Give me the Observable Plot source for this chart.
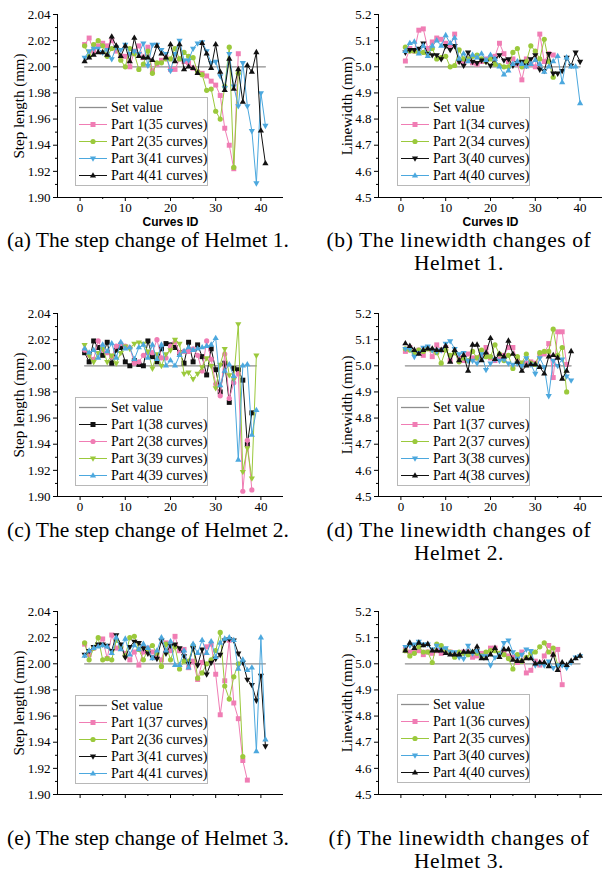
<!DOCTYPE html>
<html><head><meta charset="utf-8">
<script src="https://cdn.jsdelivr.net/npm/d3@7"></script>
<script src="https://cdn.jsdelivr.net/npm/@observablehq/plot@0.6"></script>
<style>
body{margin:0;background:#fff;}
#root{position:relative;width:613px;height:888px;background:#fff;overflow:hidden;}
.panel{position:absolute;}
.panel svg{overflow:visible;}
.panel g[aria-label="y-axis label"] text{font-size:15px;}
.panel g[aria-label="x-axis label"] text{font-family:"Liberation Sans",Arial,sans-serif;font-weight:bold;font-size:12px;}
.cap{position:absolute;width:300px;font-family:"Liberation Serif","Times New Roman",serif;font-size:21.5px;line-height:23px;text-align:center;color:#000;white-space:nowrap;}
.cap.right{letter-spacing:0.6px;}
.legend{position:absolute;width:131px;height:86px;border:1px solid #b8b8b8;background:#fff;font-family:"Liberation Serif","Times New Roman",serif;font-size:14px;color:#000;padding-top:1px;}
.legend .row{height:17px;line-height:17px;position:relative;white-space:nowrap;}
.legend .row svg{position:absolute;left:2px;top:0;}
.legend .row span{position:absolute;left:35px;top:0;}
</style>
</head><body><div id="root"></div>
<script>
// ---------- data ----------
const curveIdTicks = [0, 10, 20, 30, 40];
const curveIdMinor = [5, 15, 25, 35];
const stepTicks = [1.90, 1.92, 1.94, 1.96, 1.98, 2.00, 2.02, 2.04];
const stepMinor = [1.91, 1.93, 1.95, 1.97, 1.99, 2.01, 2.03];
const widthTicks = [4.5, 4.6, 4.7, 4.8, 4.9, 5.0, 5.1, 5.2];
const widthMinor = [4.55, 4.65, 4.75, 4.85, 4.95, 5.05, 5.15];
const stepSetValue = 2.00;
const widthSetValue = 5.0;
const captions = [
  ["(a) The step change of Helmet 1."],
  ["(b) The linewidth changes of", "Helmet 1."],
  ["(c) The step change of Helmet 2."],
  ["(d) The linewidth changes of", "Helmet 2."],
  ["(e) The step change of Helmet 3."],
  ["(f) The linewidth changes of", "Helmet 3."]
];

// Helmet 1 step length
const a_part1 = [2.017,2.022,2.012,2.016,2.018,2.016,2.020,2.012,2.008,2.008, 2.000,2.012,2.016,2.007,2.015,1.997,2.002,2.005,2.007,1.998, 1.998,2.006,2.004,2.003,1.999,1.996,1.995,1.993,1.989,1.986, 1.978,1.953,1.940,1.922,2.010];
const a_part2 = [2.016,2.008,2.017,2.020,2.016,2.008,2.014,2.015,2.005,2.000, 2.014,2.010,1.998,2.002,2.012,1.995,2.003,2.003,2.006,2.006, 2.014,2.006,2.011,2.008,2.007,1.996,1.994,1.982,1.983,1.966, 1.960,1.985,2.015,1.923,1.995];
const a_part3 = [2.007,2.012,2.014,2.014,2.011,2.013,2.006,2.015,2.013,2.017, 2.010,2.012,2.010,2.018,2.001,2.017,2.017,2.013,2.010,1.997, 2.010,2.020,2.005,2.005,2.014,2.018,2.019,2.012,2.003,2.004, 1.993,1.984,2.010,1.985,1.970,2.003,1.970,1.951,1.911,1.980,1.955];
const a_part4 = [2.004,2.007,2.009,2.011,2.011,2.009,2.023,2.016,2.008,2.016, 2.004,2.022,2.008,2.007,2.007,2.005,2.016,2.010,2.007,2.017, 2.004,2.017,1.998,2.000,1.999,1.995,2.018,2.010,1.999,2.017, 1.996,1.982,2.006,1.983,1.998,1.973,2.001,1.996,2.011,1.951,1.926];
// Helmet 1 linewidth
const b_part1 = [5.022,5.070,5.060,5.140,5.145,5.070,5.095,5.110,5.105,5.090, 5.080,5.125,5.020,5.015,5.030,5.015,5.010,5.020,5.030,5.035, 5.040,5.090,5.050,5.020,5.030,5.010,4.950,5.030,5.010,5.000, 5.125,5.020,5.050,5.045];
const b_part2 = [5.075,5.060,5.060,5.055,5.055,5.050,5.070,5.030,5.035,5.040, 5.000,5.005,5.065,5.030,5.030,5.040,5.045,5.030,5.020,5.030, 5.010,5.005,5.000,5.000,5.055,5.070,5.000,5.020,5.080,5.060, 5.030,5.105,5.020,4.960];
const b_part3 = [5.055,5.065,5.065,5.070,5.090,5.050,5.045,5.045,5.030,5.080, 5.065,5.080,5.020,5.005,5.055,5.020,5.015,5.025,5.020,5.005, 5.030,5.045,5.025,5.030,5.005,5.015,5.020,5.005,5.030,5.045, 4.990,4.985,5.050,4.975,4.975,4.985,5.035,5.005,5.055,5.020];
const b_part4 = [5.060,5.090,5.095,5.050,5.080,5.040,5.080,5.100,5.080,5.120, 5.090,5.110,5.030,5.050,5.020,5.045,5.035,5.050,5.025,5.045, 5.030,5.000,4.970,4.985,5.010,5.020,5.010,5.000,5.010,5.025, 5.010,4.980,5.000,5.020,5.040,4.940,5.035,5.000,5.000,4.860];
// Helmet 2 step length
const c_part1 = [2.010,2.003,2.019,2.014,2.008,2.018,2.002,2.012,2.014,2.003, 2.000,2.004,2.001,2.000,2.019,2.007,2.003,2.013,2.017,2.016, 2.014,2.010,2.002,2.018,2.003,2.016,2.007,1.993,2.013,1.997, 1.980,2.002,1.972,1.998,1.997,1.989,1.940,1.964];
const c_part2 = [2.012,2.008,2.005,2.019,2.012,2.010,2.007,2.015,2.017,2.015, 2.014,2.002,2.003,2.008,2.010,2.010,2.020,2.006,2.006,2.015, 2.018,2.010,2.011,2.011,2.013,2.008,1.996,2.019,2.005,1.986, 1.977,2.009,1.975,1.987,1.994,1.904,1.943,1.905];
const c_part3 = [2.016,2.008,2.003,2.010,2.013,2.003,2.008,2.002,2.010,2.015, 2.013,2.017,2.018,2.017,2.011,1.998,2.009,2.000,2.009,2.012, 2.020,2.017,1.994,1.995,1.990,1.994,1.999,2.006,2.000,1.983, 2.001,2.013,1.993,1.990,2.032,1.919,1.937,1.914,2.008];
const c_part4 = [2.013,2.010,2.012,2.006,2.016,2.011,2.017,2.006,2.018,2.013, 2.014,2.005,2.014,2.016,2.006,2.016,2.005,2.016,2.000,2.004, 2.000,2.008,2.011,2.014,2.012,2.013,2.014,2.015,2.016,2.021, 1.985,1.996,2.001,1.992,1.928,2.000,2.001,1.947,1.966];
// Helmet 2 linewidth
const d_part1 = [5.055,5.070,5.050,5.060,5.040,5.070,5.035,5.080,5.060,5.070, 5.020,5.050,5.030,5.020,5.045,5.030,5.030,5.040,5.070,5.030, 5.020,5.030,5.040,5.070,5.070,5.020,5.010,5.010,5.015,5.010, 5.040,5.045,5.085,4.955,5.130,5.130,5.005];
const d_part2 = [5.065,5.060,5.050,5.060,5.055,5.065,5.060,5.050,5.010,5.060, 5.040,5.050,5.015,5.030,5.020,5.055,5.030,5.060,5.035,5.035, 5.080,5.045,5.020,5.040,4.990,5.035,5.010,5.045,5.010,5.005, 5.050,5.055,5.055,5.140,5.040,5.070,4.900];
const d_part3 = [5.065,5.065,5.035,5.050,5.070,5.075,5.060,5.055,5.060,5.085, 5.095,5.065,5.045,5.050,5.020,5.020,5.010,5.045,4.985,5.010, 5.025,5.020,5.025,5.010,5.005,5.010,5.000,5.030,5.005,4.970, 5.030,4.995,4.885,5.020,5.000,5.025,4.960,4.945];
const d_part4 = [5.085,5.075,5.060,5.045,5.060,5.065,5.065,5.060,5.060,5.075, 5.015,5.060,5.020,5.040,4.980,5.080,5.080,5.020,5.050,5.105, 5.025,5.045,5.035,5.095,5.045,5.015,4.980,5.000,5.005,5.005, 4.995,4.970,5.035,5.040,5.030,4.950,4.980,5.055];
// Helmet 3 step length
const e_part1 = [2.015,2.007,2.012,2.014,2.019,2.004,2.022,2.012,2.013,2.008, 2.003,2.009,1.999,2.009,2.012,2.009,2.005,2.003,2.016,2.010, 2.021,2.010,2.011,1.997,2.002,1.988,2.001,2.013,2.015,1.992, 1.961,1.987,2.018,1.970,1.958,1.926,1.911];
const e_part2 = [2.016,2.003,2.012,2.020,2.003,2.004,2.003,2.018,2.013,2.006, 2.020,2.021,2.011,2.003,2.011,2.014,2.008,1.998,2.015,2.003, 2.013,1.996,2.002,2.002,2.014,1.989,1.993,2.000,2.003,2.010, 2.024,1.983,1.973,1.990,2.000,1.929];
const e_part3 = [2.007,2.010,2.013,2.015,2.015,2.014,2.010,2.022,2.015,2.005, 2.013,2.017,2.016,2.012,2.008,2.005,2.004,2.018,2.008,2.014, 2.015,2.012,2.006,2.000,2.012,1.999,2.011,1.992,2.001,2.004, 2.007,2.018,2.019,2.018,2.008,2.001,1.988,1.984,1.972,1.991,1.937];
const e_part4 = [2.006,2.010,2.012,2.013,2.014,2.013,2.008,2.020,2.011,2.019, 2.007,2.014,2.011,2.015,2.012,2.004,2.010,2.020,2.010,2.017, 1.999,1.999,2.010,1.997,2.015,2.008,2.018,2.008,2.017,2.005, 2.016,2.019,2.020,2.018,1.996,2.003,1.995,1.997,1.933,2.020,1.942];
// Helmet 3 linewidth
const f_part1 = [5.055,5.045,5.045,5.050,5.035,5.045,5.040,5.050,5.040,5.045, 5.045,5.040,5.035,5.045,5.045,5.025,5.030,5.040,5.035,5.060, 5.060,5.040,5.040,5.030,5.025,5.005,5.045,4.965,4.975,5.010, 4.995,5.030,5.070,5.035,5.055,4.920];
const f_part2 = [5.050,5.030,5.040,5.065,5.045,5.045,5.005,5.075,5.070,5.055, 5.045,5.025,5.045,5.040,5.035,5.045,5.040,5.030,5.045,5.050, 5.050,5.040,5.035,5.020,4.980,5.035,5.010,5.025,5.040,5.045, 5.065,5.080,5.045,5.060,4.995];
const f_part3 = [5.065,5.070,5.075,5.085,5.075,5.075,5.055,5.070,5.055,5.060, 5.045,5.045,5.025,5.020,5.070,5.040,5.050,5.030,5.030,4.995, 5.025,5.035,5.080,5.090,5.045,5.020,5.035,5.055,5.050,4.995, 5.000,4.995,5.010,4.985,4.995,4.995,4.985,5.005,5.025,5.030];
const f_part4 = [5.050,5.080,5.060,5.080,5.070,5.075,5.050,5.050,5.050,5.040, 5.035,5.035,5.035,5.045,5.045,5.045,5.065,5.020,5.020,5.035, 5.060,5.025,5.055,5.055,5.015,5.010,5.010,5.020,5.020,5.000, 5.005,5.005,4.990,5.035,4.975,5.005,4.995,5.010,5.020,5.030];

// ---------- styles ----------
const PINK = "#F07DB4", GREEN = "#9BC93C", BLUE = "#4CA8DE", BLACK = "#111111", SETC = "#8E8E8E";
const triangleDown = {
  draw(ctx, size) {
    const y = -Math.sqrt(size / (Math.sqrt(3) * 3));
    ctx.moveTo(0, -y * 2);
    ctx.lineTo(-Math.sqrt(3) * y, y);
    ctx.lineTo(Math.sqrt(3) * y, y);
    ctx.closePath();
  }
};
const SYM = {square: "square", circle: "circle", up: "triangle", down: triangleDown};
const RAD = {square: 2.8, circle: 2.6, up: 2.3, down: 2.3};

function S(name, values, color, sym) { return {name, values, color, sym}; }

// xText: which x-axis texts are visible in the reference (row 1 full, row 2 tick labels only, row 3 none)
const panels = [
  {left: 0, top: 0, xText: "full", capTop: 229, kind: "step", legendTop: 97, series: [
    S("Part 1(35 curves)", a_part1, PINK, "square"), S("Part 2(35 curves)", a_part2, GREEN, "circle"),
    S("Part 3(41 curves)", a_part3, BLUE, "down"), S("Part 4(41 curves)", a_part4, BLACK, "up")]},
  {left: 300, top: 0, xText: "full", capTop: 229, kind: "width", legendTop: 97, series: [
    S("Part 1(34 curves)", b_part1, PINK, "square"), S("Part 2(34 curves)", b_part2, GREEN, "circle"),
    S("Part 3(40 curves)", b_part3, BLACK, "down"), S("Part 4(40 curves)", b_part4, BLUE, "up")]},
  {left: 0, top: 299, xText: "ticks", capTop: 519, kind: "step", legendTop: 397, series: [
    S("Part 1(38 curves)", c_part1, BLACK, "square"), S("Part 2(38 curves)", c_part2, PINK, "circle"),
    S("Part 3(39 curves)", c_part3, GREEN, "down"), S("Part 4(39 curves)", c_part4, BLUE, "up")]},
  {left: 300, top: 299, xText: "ticks", capTop: 519, kind: "width", legendTop: 397, series: [
    S("Part 1(37 curves)", d_part1, PINK, "square"), S("Part 2(37 curves)", d_part2, GREEN, "circle"),
    S("Part 3(38 curves)", d_part3, BLUE, "down"), S("Part 4(38 curves)", d_part4, BLACK, "up")]},
  {left: 0, top: 597, xText: "none", capTop: 827, kind: "step", legendTop: 695, series: [
    S("Part 1(37 curves)", e_part1, PINK, "square"), S("Part 2(36 curves)", e_part2, GREEN, "circle"),
    S("Part 3(41 curves)", e_part3, BLACK, "down"), S("Part 4(41 curves)", e_part4, BLUE, "up")]},
  {left: 300, top: 597, xText: "none", capTop: 827, kind: "width", legendTop: 694, series: [
    S("Part 1(36 curves)", f_part1, PINK, "square"), S("Part 2(35 curves)", f_part2, GREEN, "circle"),
    S("Part 3(40 curves)", f_part3, BLUE, "down"), S("Part 4(40 curves)", f_part4, BLACK, "up")]}
];

const root = document.getElementById("root");

function markerSvg(sym, color) {
  const cx = 15, cy = 8.5;
  let m = "";
  if (sym === "square") m = `<rect x="${cx-2.5}" y="${cy-2.5}" width="5" height="5" fill="${color}"/>`;
  else if (sym === "circle") m = `<circle cx="${cx}" cy="${cy}" r="2.6" fill="${color}"/>`;
  else if (sym === "up") m = `<polygon points="${cx},${cy-3.3} ${cx-3.1},${cy+2} ${cx+3.1},${cy+2}" fill="${color}"/>`;
  else if (sym === "down") m = `<polygon points="${cx},${cy+3.3} ${cx-3.1},${cy-2} ${cx+3.1},${cy-2}" fill="${color}"/>`;
  return m;
}

panels.forEach((p, idx) => {
  const isStep = p.kind === "step";
  const yTicks = isStep ? stepTicks : widthTicks;
  const yMinor = isStep ? stepMinor : widthMinor;
  const setV = isStep ? stepSetValue : widthSetValue;
  const yDomain = [yTicks[0], yTicks[yTicks.length - 1]];
  const xDomain = [-5, 45];
  const maxN = d3.max(p.series, s => s.values.length);
  const setLine = [{x: 1, y: setV}, {x: maxN, y: setV}];
  const isLeft = p.left === 0;
  const width = isLeft ? 300 : 313;
  const marks = [
    Plot.line(setLine, {x: "x", y: "y", stroke: SETC, strokeWidth: 1.3})
  ];
  p.series.forEach(s => {
    const d = s.values.map((v, i) => ({x: i + 1, y: v}));
    marks.push(Plot.line(d, {x: "x", y: "y", stroke: s.color, strokeWidth: 1}));
    marks.push(Plot.dot(d, {x: "x", y: "y", symbol: SYM[s.sym], fill: s.color, stroke: "none", r: RAD[s.sym]}));
  });
  const xAxisOpts = {ticks: curveIdTicks, tickSize: 4, tickPadding: 1, labelAnchor: "center", labelArrow: "none", labelOffset: 28};
  if (p.xText === "full") { xAxisOpts.label = "Curves ID"; }
  else { xAxisOpts.label = null; }
  if (p.xText === "none") { xAxisOpts.tickFormat = () => ""; }
  marks.push(
    Plot.axisY({ticks: yTicks, tickFormat: d3.format(isStep ? ".2f" : ".1f"), tickSize: 4, tickPadding: 3,
      label: isStep ? "Step length (mm)" : "Linewidth (mm)", labelAnchor: "center", labelArrow: "none",
      labelOffset: isLeft ? 44 : 37}),
    Plot.axisY({ticks: yMinor, tickSize: 2, tickFormat: () => "", label: null}),
    Plot.axisX(xAxisOpts),
    Plot.axisX({ticks: curveIdMinor, tickSize: 2, tickFormat: () => "", label: null}),
    Plot.ruleX([xDomain[0]], {stroke: "#000", strokeWidth: 1}),
    Plot.ruleY([yDomain[0]], {stroke: "#000", strokeWidth: 1})
  );
  const chart = Plot.plot({
    width, height: 225,
    marginLeft: isLeft ? 57 : 78, marginRight: isLeft ? 17 : 11,
    marginTop: 14, marginBottom: 28,
    x: {domain: xDomain},
    y: {domain: yDomain},
    style: {fontFamily: "'Liberation Serif','Times New Roman',serif", fontSize: "13px", color: "#000", background: "transparent", overflow: "visible"},
    marks
  });
  const wrap = document.createElement("div");
  wrap.className = "panel";
  wrap.style.left = p.left + "px";
  wrap.style.top = p.top + "px";
  wrap.appendChild(chart);
  root.appendChild(wrap);

  // legend
  const lg = document.createElement("div");
  lg.className = "legend";
  lg.style.left = (isLeft ? 75 : 397) + "px";
  lg.style.top = p.legendTop + "px";
  const rows = [{name: "Set value", color: SETC, sym: null}].concat(p.series);
  rows.forEach(r => {
    const row = document.createElement("div");
    row.className = "row";
    row.innerHTML = `<svg width="30" height="17"><line x1="1" x2="29" y1="8.5" y2="8.5" stroke="${r.color}" stroke-width="${r.sym ? 1 : 1.3}"/>${r.sym ? markerSvg(r.sym, r.color) : ""}</svg><span>${r.name}</span>`;
    lg.appendChild(row);
  });
  root.appendChild(lg);

  // caption
  const cap = document.createElement("div");
  cap.className = "cap" + (isLeft ? "" : " right");
  cap.style.left = (isLeft ? -2 : 309) + "px";
  cap.style.top = p.capTop + "px";
  cap.innerHTML = captions[idx].join("<br>");
  root.appendChild(cap);
});
</script>
</body></html>
